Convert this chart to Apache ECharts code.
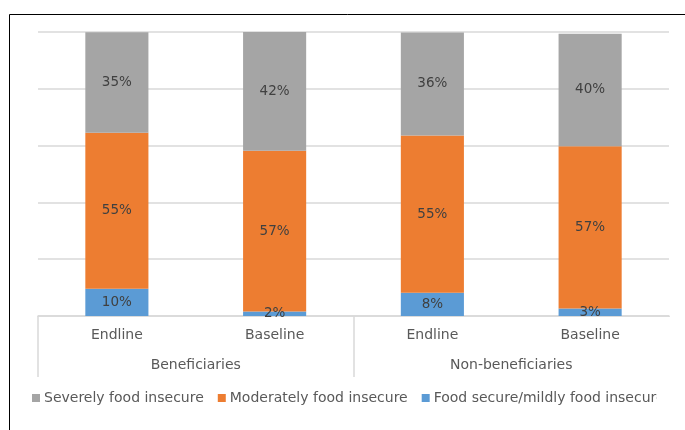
<!DOCTYPE html>
<html>
<head>
<meta charset="utf-8">
<script src="https://cdn.jsdelivr.net/npm/echarts@6/dist/echarts.min.js"></script>
<style>html,body{margin:0;padding:0;background:#fff}#c{width:685px;height:430px}</style>
</head>
<body>
<div id="c"></div>
<script>
var categories = ['Endline', 'Baseline', 'Endline', 'Baseline'];
var groups = ['Beneficiaries', 'Non-beneficiaries'];
var seriesNames = ['Severely food insecure', 'Moderately food insecure', 'Food secure/mildly food insecure'];
var foodSecure = [9.6, 1.6, 8.2, 2.6];
var moderately = [54.9, 56.6, 55.4, 57.2];
var severely = [35.4, 42.4, 36.2, 39.6];

var FONT = 'DejaVu Sans';
var chart = echarts.init(document.getElementById('c'), null, {renderer: 'canvas'});
function lbl() {
  return {show: true, position: 'inside', color: '#404040', fontFamily: FONT, fontSize: 13.5,
    formatter: function (p) { return Math.round(p.value) + '%'; }};
}
chart.setOption({
  animation: false,
  grid: {left: 38, right: 16, top: 32, bottom: 114},
  legend: {
    data: seriesNames,
    left: 27, top: 386,
    itemWidth: 8, itemHeight: 8, itemGap: 14, icon: 'rect',
    textStyle: {color: '#595959', fontFamily: FONT, fontSize: 14, padding: [0, 0, 0, -1]}
  },
  xAxis: [{
    type: 'category', data: categories, position: 'bottom',
    axisLine: {lineStyle: {color: '#d9d9d9', width: 1.5}},
    axisTick: {show: false},
    axisLabel: {color: '#595959', fontFamily: FONT, fontSize: 14, margin: 12}
  }, {
    type: 'category', data: groups, position: 'bottom',
    axisLine: {show: false},
    axisTick: {show: true, length: 61, lineStyle: {color: '#d9d9d9', width: 1.5}},
    axisLabel: {color: '#595959', fontFamily: FONT, fontSize: 14, margin: 42}
  }],
  yAxis: {
    type: 'value', min: 0, max: 100, interval: 20,
    axisLabel: {show: false}, axisLine: {show: false}, axisTick: {show: false},
    splitLine: {lineStyle: {color: '#d9d9d9', width: 1.5}}
  },
  series: [
    {name: seriesNames[2], type: 'bar', stack: 's', data: foodSecure, barWidth: '40%', label: lbl(),
     itemStyle: {color: '#5B9BD5'}},
    {name: seriesNames[1], type: 'bar', stack: 's', data: moderately, barWidth: '40%', label: lbl(),
     itemStyle: {color: '#ED7D31'}},
    {name: seriesNames[0], type: 'bar', stack: 's', data: severely, barWidth: '40%', label: lbl(),
     itemStyle: {color: '#A5A5A5'}}
  ],
  graphic: [
    {type: 'rect', z: 100, shape: {x: 666, y: 317, width: 8, height: 64}, style: {fill: '#fff'}},
    {type: 'rect', z: 100, shape: {x: 657, y: 382, width: 40, height: 28}, style: {fill: '#fff'}},
    {type: 'rect', z: 101, shape: {x: 9.5, y: 14.5, width: 700, height: 500}, style: {fill: null, stroke: '#000', lineWidth: 1}}
  ]
});
</script>
</body>
</html>
